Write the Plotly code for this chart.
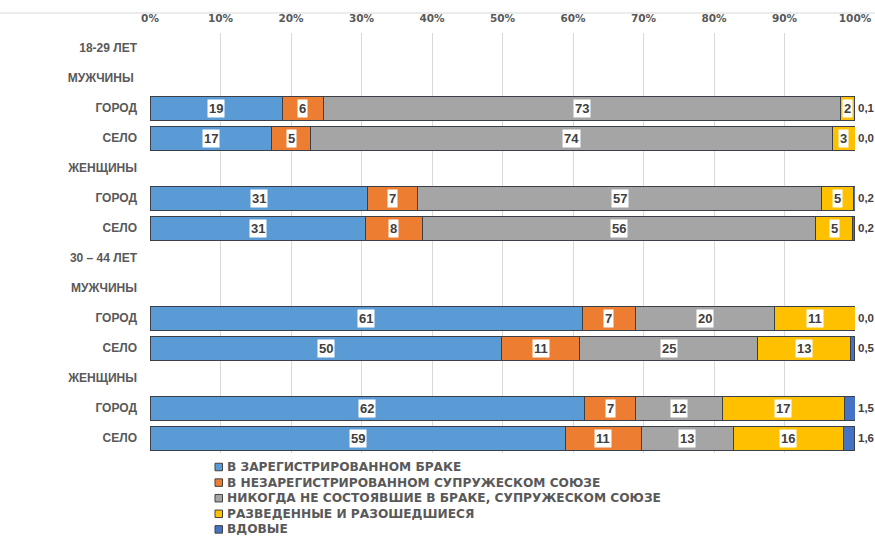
import plotly.graph_objects as go

row_labels = ["18-29 ЛЕТ", "МУЖЧИНЫ ", "ГОРОД", "СЕЛО", "ЖЕНЩИНЫ", "ГОРОД", "СЕЛО",
              "30 – 44 ЛЕТ", "МУЖЧИНЫ", "ГОРОД", "СЕЛО", "ЖЕНЩИНЫ", "ГОРОД", "СЕЛО"]
bar_rows = [2, 3, 5, 6, 9, 10, 12, 13]

series_names = ["В ЗАРЕГИСТРИРОВАННОМ БРАКЕ",
                "В НЕЗАРЕГИСТРИРОВАННОМ СУПРУЖЕСКОМ СОЮЗЕ",
                "НИКОГДА НЕ СОСТОЯВШИЕ В БРАКЕ, СУПРУЖЕСКОМ СОЮЗЕ",
                "РАЗВЕДЕННЫЕ И РАЗОШЕДШИЕСЯ",
                "ВДОВЫЕ"]
married = [18.8, 17.3, 30.9, 30.6, 61.4, 49.9, 61.7, 58.9]
unregistered = [5.8, 5.4, 7.1, 8.0, 7.4, 11.0, 7.2, 10.8]
never = [73.4, 74.1, 57.2, 55.8, 19.8, 25.3, 12.3, 13.0]
divorced = [1.9, 3.2, 4.6, 5.3, 11.4, 13.2, 17.3, 15.6]
widowed = [0.1, 0.0, 0.2, 0.2, 0.0, 0.5, 1.5, 1.6]

colors = ["#5B9BD5", "#ED7D31", "#A5A5A5", "#FFC000", "#4472C4"]
all_series = [married, unregistered, never, divorced, widowed]

ARIAL = "Liberation Sans, Arial, sans-serif"
WIDE = "DejaVu Sans, Verdana, sans-serif"
TXT = "#404040"
GREY = "#595959"

# layout in pixels (page body margin removed in post_script)
W, H = 875, 538
ML, MT = 150, 33
MR = W - 855
MB = H - 453
PW, PH = W - ML - MR, H - MT - MB


def px_x(px):
    return (px - ML) / PW


def px_y(py):
    return (H - MB - py) / PH


fig = go.Figure()
for name, vals, col in zip(series_names, all_series, colors):
    fig.add_trace(go.Bar(
        name=name, y=bar_rows, x=vals, orientation="h",
        marker=dict(color=col, line=dict(color="#3A3F48", width=1)),
        hoverinfo="x+name", showlegend=False,
    ))

annotations = []
for i, r in enumerate(bar_rows):
    cum = 0
    for k, vals in enumerate(all_series[:4]):
        v = vals[i]
        annotations.append(dict(
            x=cum + v / 2, y=r, xref="x", yref="y", text=str(round(v)),
            showarrow=False, bgcolor="white", borderpad=1,
            font=dict(family=ARIAL, size=13, color=TXT, weight="bold")))
        cum += v
    annotations.append(dict(
        x=100, y=r, xref="x", yref="y",
        text=f"{widowed[i]:.1f}".replace(".", ","),
        showarrow=False, xanchor="left", xshift=1,
        font=dict(family=ARIAL, size=11.5, color=TXT, weight="bold")))

# custom legend (compact spacing as in reference)
shapes = [dict(type="line", xref="paper", yref="paper", x0=px_x(0), x1=px_x(W),
               y0=px_y(13), y1=px_y(13), line=dict(color="#D9D9D9", width=1))]
leg_x, leg_y0, leg_dy = 215, 467, 15.6
for j, (name, col) in enumerate(zip(series_names, colors)):
    cy = leg_y0 + j * leg_dy
    shapes.append(dict(type="rect", xref="paper", yref="paper",
                       x0=px_x(leg_x), x1=px_x(leg_x + 7.5),
                       y0=px_y(cy + 3.75), y1=px_y(cy - 3.75),
                       fillcolor=col, line=dict(color="#404040", width=1)))
    annotations.append(dict(
        x=px_x(leg_x + 10), y=px_y(cy), xref="paper", yref="paper",
        text=name, showarrow=False, xanchor="left", yanchor="middle",
        font=dict(family=WIDE, size=12.2, color=GREY, weight="bold")))

fig.update_layout(
    barmode="stack", bargap=0.2,
    width=W, height=H,
    margin=dict(l=ML, r=MR, t=MT, b=MB),
    plot_bgcolor="white", paper_bgcolor="white",
    font=dict(family=ARIAL, color=GREY),
    xaxis=dict(side="top", range=[0, 100], dtick=10, ticksuffix="%",
               showgrid=True, gridcolor="#D9D9D9", gridwidth=1, zeroline=False,
               tickfont=dict(family=WIDE, size=10.5, color=GREY, weight="bold"),
               ticks="", ticklabelstandoff=8, automargin=False),
    yaxis=dict(tickmode="array", tickvals=list(range(len(row_labels))),
               ticktext=row_labels, range=[13.5, -0.5], showgrid=False,
               zeroline=False, ticks="", ticklabelstandoff=12, automargin=False,
               tickfont=dict(family=ARIAL, size=12, color=GREY, weight="bold")),
    annotations=annotations,
    shapes=shapes,
    showlegend=False,
)

fig.write_html(
    "out.html",
    config={"displayModeBar": False},
    post_script="document.body.style.margin='0';document.body.style.overflow='hidden';",
)
